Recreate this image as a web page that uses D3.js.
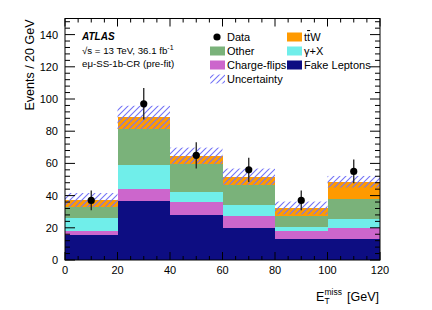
<!DOCTYPE html>
<html><head><meta charset="utf-8">
<script src="https://cdn.jsdelivr.net/npm/d3@7"></script>
<style>body{margin:0;background:#fff}svg{display:block;font-family:"Liberation Sans",Arial,Helvetica,sans-serif}</style>
</head><body><svg id="c" width="432" height="310"></svg>
<script>
const binEdges=[0,20,40,60,80,100,120];
const fakeLeptons=[15.4,36.5,28.0,19.6,12.8,12.9];
const chargeFlips=[2.7,7.6,8.3,7.7,5.4,7.2];
const gammaX=[8.1,14.9,5.7,6.9,2.1,5.4];
const other=[6.6,22.2,17.5,12.4,7.2,12.4];
const ttW=[4.5,7.4,5.3,5.2,4.8,10.7];
const uncertainty=[4.3,7.2,5.0,5.0,4.0,3.6];
const dataValues=[37,97,65,56,37,55];
const dataErrors=[6.1,9.8,8.1,7.5,6.1,7.4];
const yTicks=[0,20,40,60,80,100,120,140];
const xTicks=[0,20,40,60,80,100,120];
const seriesNames=["fake","cf","gx","other","ttw"];
const colors={fake:"#0d0d82",cf:"#cc66cc",gx:"#70eeea",other:"#7ab27a",ttw:"#ff9a00"};

const svg=d3.select("#c");
const L=65,R=380,T=18.5,B=260;
const x=d3.scaleLinear().domain([0,120]).range([L,R]);
const y=d3.scaleLinear().domain([0,150]).range([B,T]);

const defs=svg.append("defs");
const pat=defs.append("pattern").attr("id","hatch").attr("patternUnits","userSpaceOnUse")
  .attr("width",6).attr("height",6);
pat.append("path").attr("d","M0,6 L6,0 M-1,1 L1,-1 M5,7 L7,5")
  .attr("stroke","#7474f6").attr("stroke-width",1.1).attr("fill","none");

const rows=binEdges.slice(0,-1).map((e,i)=>({lo:e,hi:binEdges[i+1],fake:fakeLeptons[i],cf:chargeFlips[i],gx:gammaX[i],other:other[i],ttw:ttW[i]}));
const stack=d3.stack().keys(seriesNames)(rows);

const g=svg.append("g");
stack.forEach(layer=>{
  g.selectAll(null).data(layer).enter().append("rect")
    .attr("x",d=>x(d.data.lo)).attr("width",d=>x(d.data.hi)-x(d.data.lo))
    .attr("y",d=>y(d[1])).attr("height",d=>y(d[0])-y(d[1]))
    .attr("fill",colors[layer.key]).attr("shape-rendering","crispEdges");
});
// uncertainty band
g.selectAll(null).data(rows).enter().append("rect")
  .attr("x",d=>x(d.lo)).attr("width",d=>x(d.hi)-x(d.lo))
  .attr("y",(d,i)=>{const t=d.fake+d.cf+d.gx+d.other+d.ttw;return y(t+uncertainty[i]);})
  .attr("height",(d,i)=>y(0)-y(2*uncertainty[i]))
  .attr("fill","url(#hatch)");
// data
const centers=rows.map(d=>(d.lo+d.hi)/2);
g.selectAll(null).data(dataValues).enter().append("line")
  .attr("x1",(d,i)=>x(centers[i])).attr("x2",(d,i)=>x(centers[i]))
  .attr("y1",(d,i)=>y(d-dataErrors[i])).attr("y2",(d,i)=>y(d+dataErrors[i]))
  .attr("stroke","#222").attr("stroke-width",1.3);
g.selectAll(null).data(dataValues).enter().append("circle")
  .attr("cx",(d,i)=>x(centers[i])).attr("cy",d=>y(d)).attr("r",3.6).attr("fill","#000");

// frame
svg.append("rect").attr("x",L).attr("y",T).attr("width",R-L).attr("height",B-T)
  .attr("fill","none").attr("stroke","#000").attr("stroke-width",1);
// ticks
const ax=svg.append("g").attr("stroke","#000").attr("stroke-width",1);
d3.range(0,151,4).forEach(v=>{const maj=v%20===0;const len=maj?10:5;
  if(y(v)<T)return;
  ax.append("line").attr("x1",L).attr("x2",L+len).attr("y1",y(v)).attr("y2",y(v));
  ax.append("line").attr("x1",R).attr("x2",R-len).attr("y1",y(v)).attr("y2",y(v));});
d3.range(0,121,5).forEach(v=>{const maj=v%20===0;const len=maj?8:4;
  ax.append("line").attr("x1",x(v)).attr("x2",x(v)).attr("y1",B).attr("y2",B-len);
  ax.append("line").attr("x1",x(v)).attr("x2",x(v)).attr("y1",T).attr("y2",T+len);});
// tick labels
svg.append("g").selectAll(null).data(yTicks).enter().append("text")
  .attr("x",L-7).attr("y",d=>y(d)+4).attr("text-anchor","end").attr("font-size",11).text(d=>d);
svg.append("g").selectAll(null).data(xTicks).enter().append("text")
  .attr("x",d=>x(d)).attr("y",B+14).attr("text-anchor","middle").attr("font-size",11).text(d=>d);
// axis titles
svg.append("text").attr("transform",`translate(34,${T+1}) rotate(-90)`).attr("text-anchor","end")
  .attr("font-size",12.5).text("Events / 20 GeV");
const xt=svg.append("text").attr("y",301).attr("font-size",12.5);
xt.append("tspan").attr("x",316).text("E");
xt.append("tspan").attr("x",324.5).attr("dy",3).attr("font-size",8.5).text("T");
xt.append("tspan").attr("x",324.5).attr("dy",-9).attr("font-size",8.5).text("miss");
xt.append("tspan").attr("x",347).attr("dy",6).text("[GeV]");

// ATLAS label
svg.append("text").attr("x",82).attr("y",40).attr("font-size",10).attr("font-weight","bold").attr("font-style","italic").text("ATLAS");
const l2=svg.append("text").attr("x",82).attr("y",54).attr("font-size",9.7);
l2.append("tspan").text("\u221As = 13 TeV, 36.1 fb");
l2.append("tspan").attr("dy",-4).attr("font-size",7).text("-1");
svg.append("text").attr("x",82).attr("y",67).attr("font-size",9.7).text("e\u03BC-SS-1b-CR (pre-fit)");

// legend
const lg=svg.append("g").attr("font-size",11);
const rowY=[37,51,65,79];
lg.append("circle").attr("cx",217).attr("cy",rowY[0]).attr("r",3.6).attr("fill","#000");
lg.append("text").attr("x",227).attr("y",rowY[0]+4).text("Data");
function sw(xx,yy,fill){lg.append("rect").attr("x",xx).attr("y",yy-4.5).attr("width",15).attr("height",9).attr("fill",fill);}
sw(210,rowY[1],colors.other);lg.append("text").attr("x",227).attr("y",rowY[1]+4).text("Other");
sw(210,rowY[2],colors.cf);lg.append("text").attr("x",227).attr("y",rowY[2]+4).text("Charge-flips");
sw(210,rowY[3],"url(#hatch)");lg.append("text").attr("x",227).attr("y",rowY[3]+4).text("Uncertainty");
sw(287,rowY[0],colors.ttw);
const tw=lg.append("text").attr("x",304).attr("y",rowY[0]+4);
tw.append("tspan").text("t");tw.append("tspan").attr("text-decoration","overline").text("t");tw.append("tspan").text("W");
sw(287,rowY[1],colors.gx);lg.append("text").attr("x",304).attr("y",rowY[1]+4).text("\u03B3+X");
sw(287,rowY[2],colors.fake);lg.append("text").attr("x",304).attr("y",rowY[2]+4).text("Fake Leptons");
</script></body></html>
